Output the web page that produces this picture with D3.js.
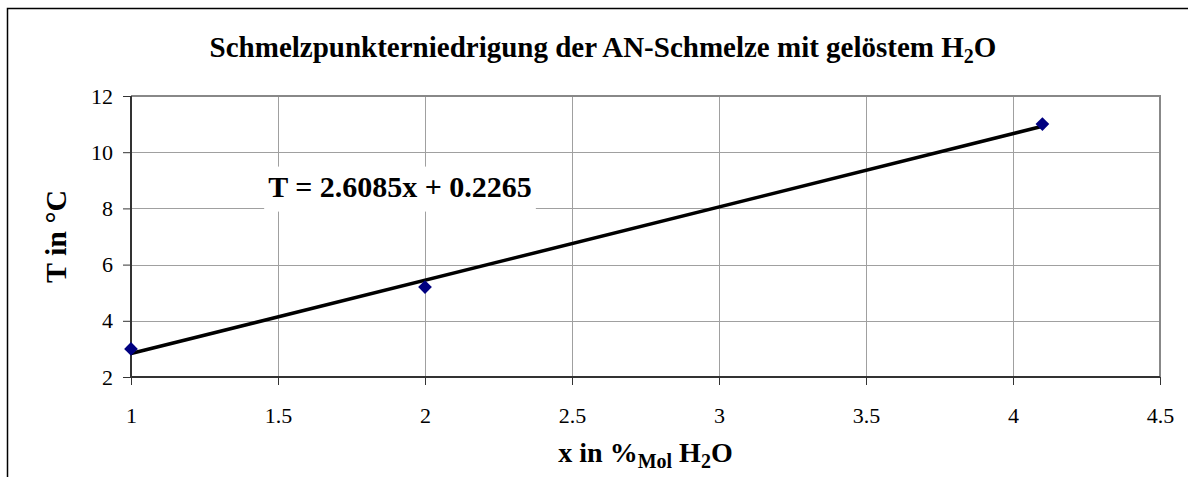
<!DOCTYPE html>
<html>
  <head>
    <meta charset="UTF-8">
    <title>Schmelzpunkterniedrigung</title>
    <style>
      body { margin: 0; background: #fff; }
      svg text { font-family: "Liberation Serif", "Times New Roman", "DejaVu Serif", serif !important; fill: #000; }
      .grid line { stroke: #a0a0a0; stroke-width: 1px; }
    </style>
    <script src="https://d3js.org/d3.v7.min.js"></script>
  </head>
  <body>
    <div id="chart"></div>
    <script>
      // data
      var xValues = [1, 2, 4.1];
      var tValues = [3, 5.2, 11];
      var xTicks = [1, 1.5, 2, 2.5, 3, 3.5, 4, 4.5];
      var yTicks = [2, 4, 6, 8, 10, 12];
      var trendSlope = 2.6085, trendIntercept = 0.2265;

      var serif = '"Liberation Serif", "Times New Roman", "DejaVu Serif", serif';
      var width = 1188, height = 477;
      var margin = {top: 96, right: 28, bottom: 100, left: 131};
      var plotW = width - margin.left - margin.right;
      var plotH = height - margin.top - margin.bottom;

      var svg = d3.select("#chart").append("svg")
        .attr("width", width)
        .attr("height", height)
        .attr("font-family", serif);

      // outer chart border (top + left only visible)
      svg.append("path")
        .attr("d", "M7.5," + height + "V8.5H" + width)
        .attr("fill", "none")
        .attr("stroke", "#000")
        .attr("stroke-width", 1.5);

      var g = svg.append("g")
        .attr("transform", "translate(" + margin.left + "," + margin.top + ")");

      var x = d3.scaleLinear().domain([1, 4.5]).range([0, plotW]);
      var y = d3.scaleLinear().domain([2, 12]).range([plotH, 0]);

      // grid
      g.append("g").attr("class", "grid")
        .selectAll("line").data(yTicks).enter().append("line")
        .attr("x1", 0).attr("x2", plotW)
        .attr("y1", function(d) { return Math.round(y(d)) + 0.5; })
        .attr("y2", function(d) { return Math.round(y(d)) + 0.5; });
      g.append("g").attr("class", "grid")
        .selectAll("line").data(xTicks).enter().append("line")
        .attr("y1", 0).attr("y2", plotH)
        .attr("x1", function(d) { return Math.round(x(d)) + 0.5; })
        .attr("x2", function(d) { return Math.round(x(d)) + 0.5; });

      // plot area top / right border
      g.append("path")
        .attr("d", "M0,0H" + plotW + "V" + plotH)
        .attr("fill", "none")
        .attr("stroke", "#888")
        .attr("stroke-width", 2);

      // axes
      var xAxis = d3.axisBottom(x).tickValues(xTicks).tickSize(8).tickPadding(22)
        .tickFormat(d3.format("~g"));
      var yAxis = d3.axisLeft(y).tickValues(yTicks).tickSize(8).tickPadding(10);

      var gx = g.append("g")
        .attr("transform", "translate(0," + plotH + ")")
        .call(xAxis);
      var gy = g.append("g").call(yAxis);
      [gx, gy].forEach(function(a) {
        a.attr("font-family", serif).attr("font-size", 22);
        a.select(".domain").remove();
        a.selectAll(".tick line").attr("stroke", "#333").attr("stroke-width", 1);
        a.selectAll(".tick text").style("font-family", serif).style("font-size", "22px").attr("fill", "#000");
      });
      g.append("line").attr("x1", 0).attr("x2", plotW).attr("y1", plotH).attr("y2", plotH)
        .attr("stroke", "#333").attr("stroke-width", 2);
      g.append("line").attr("x1", 0).attr("x2", 0).attr("y1", 0).attr("y2", plotH)
        .attr("stroke", "#333").attr("stroke-width", 2);

      // trend line
      var xr = d3.extent(xValues);
      g.append("line")
        .attr("x1", x(xr[0])).attr("y1", y(trendSlope * xr[0] + trendIntercept))
        .attr("x2", x(xr[1])).attr("y2", y(trendSlope * xr[1] + trendIntercept))
        .attr("stroke", "#000")
        .attr("stroke-width", 3.5);

      // points
      g.selectAll(".pt").data(xValues).enter().append("path")
        .attr("class", "pt")
        .attr("d", d3.symbol().type(d3.symbolDiamond2).size(120))
        .attr("transform", function(d, i) { return "translate(" + x(d) + "," + y(tValues[i]) + ")"; })
        .attr("fill", "#000080");

      // equation label
      var eqBox = g.append("rect").attr("fill", "#fff");
      var eq = g.append("text")
        .attr("x", x(1.915))
        .attr("y", y(8.42))
        .attr("text-anchor", "middle")
        .style("font-family", serif)
        .style("font-size", "30px")
        .style("font-weight", "bold")
        .text("T = " + trendSlope + "x + " + trendIntercept);
      var bb = eq.node().getBBox();
      eqBox.attr("x", bb.x - 4).attr("y", bb.y - 3).attr("width", bb.width + 8).attr("height", bb.height + 12);

      // title
      var title = svg.append("text")
        .attr("x", 603).attr("y", 57)
        .attr("text-anchor", "middle")
        .style("font-family", serif)
        .style("font-size", "29px")
        .style("font-weight", "bold");
      title.append("tspan").text("Schmelzpunkterniedrigung der AN-Schmelze mit gelöstem H");
      title.append("tspan").attr("dy", 6).style("font-size", "20px").text("2");
      title.append("tspan").attr("dy", -6).text("O");

      // x label
      var xl = svg.append("text")
        .attr("x", margin.left + plotW / 2).attr("y", 462)
        .attr("text-anchor", "middle")
        .style("font-family", serif)
        .style("font-size", "28px")
        .style("font-weight", "bold");
      xl.append("tspan").text("x in %");
      xl.append("tspan").attr("dy", 6).style("font-size", "20px").text("Mol");
      xl.append("tspan").attr("dy", -6).text(" H");
      xl.append("tspan").attr("dy", 6).style("font-size", "20px").text("2");
      xl.append("tspan").attr("dy", -6).text("O");

      // y label
      svg.append("text")
        .attr("transform", "translate(66," + (margin.top + plotH / 2) + ") rotate(-90)")
        .attr("text-anchor", "middle")
        .style("font-family", serif)
        .style("font-size", "30px")
        .style("font-weight", "bold")
        .text("T in °C");
    </script>
  </body>
</html>
